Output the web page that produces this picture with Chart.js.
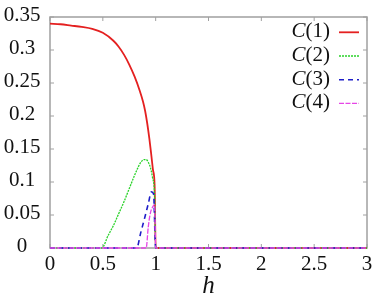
<!DOCTYPE html>
<html>
<head>
<meta charset="utf-8">
<script src="https://cdn.jsdelivr.net/npm/chart.js@4/dist/chart.umd.min.js"></script>
<style>
  html, body { margin: 0; padding: 0; background: #fff; }
  #wrap { position: relative; width: 374px; height: 302px; }
  #wrap canvas { position: absolute; left: 0; top: 0; }
  .lbl {
    position: absolute;
    font: 21px/21px 'Liberation Serif', serif;
    color: #111;
    white-space: nowrap;
    transform: translate(-50%, -50%);
  }
  .key { transform: translate(0, -50%); text-align: right; }
  .title { font: italic 25px/25px 'Liberation Serif', serif; }
</style>
</head>
<body>
<div id="wrap">
  <canvas id="myChart" width="374" height="302"></canvas>
  <div id="xlabels"></div>
  <div id="ylabels"></div>
  <div class="lbl title" id="xtitle"></div>
  <div id="keylabels"></div>
</div>
<script>
const xTicks = [0, 0.5, 1, 1.5, 2, 2.5, 3];
const xTickLabels = ['0', '0.5', '1', '1.5', '2', '2.5', '3'];
const yTicks = [0, 0.05, 0.1, 0.15, 0.2, 0.25, 0.3, 0.35];
const yTickLabels = ['0', '0.05', '0.1', '0.15', '0.2', '0.25', '0.3', '0.35'];
const xTitle = 'h';

const seriesNames = ['C(1)', 'C(2)', 'C(3)', 'C(4)'];

const h1 = [0, 0.1, 0.2, 0.3, 0.4, 0.5, 0.6, 0.65, 0.7, 0.75, 0.8, 0.85, 0.88, 0.9, 0.92, 0.94, 0.96, 0.975, 0.99, 1.0, 3.0];
const c1 = [0.340, 0.339, 0.337, 0.335, 0.332, 0.326, 0.314, 0.305, 0.293, 0.278, 0.260, 0.238, 0.222, 0.208, 0.189, 0.166, 0.139, 0.118, 0.095, 0, 0];

const h2 = [0, 0.49, 0.55, 0.6, 0.65, 0.7, 0.75, 0.8, 0.83, 0.86, 0.89, 0.91, 0.93, 0.95, 0.97, 0.99, 1.0, 3.0];
const c2 = [0, 0, 0.019, 0.034, 0.052, 0.070, 0.090, 0.110, 0.121, 0.130, 0.134, 0.134, 0.130, 0.122, 0.107, 0.078, 0, 0];

const h3 = [0, 0.82, 0.86, 0.9, 0.93, 0.96, 0.98, 1.0, 3.0];
const c3 = [0, 0, 0.024, 0.048, 0.067, 0.085, 0.082, 0, 0];

const h4 = [0, 0.91, 0.93, 0.95, 0.975, 0.99, 1.0, 3.0];
const c4 = [0, 0, 0.032, 0.053, 0.063, 0.066, 0, 0];

function pts(hs, cs) {
    return hs.map(function (h, i) { return { x: h, y: cs[i] }; });
}

// key rows (line sample y positions)
function keyY(i) { return 32.3 + i * 23.7; }

// frame + inward ticks on all four sides
const framePlugin = {
    id: 'frame',
    beforeDatasetsDraw(chart) {
        const ctx = chart.ctx, a = chart.chartArea;
        const xs = chart.scales.x, ys = chart.scales.y;
        ctx.save();
        ctx.strokeStyle = '#a0a0a0';
        ctx.lineWidth = 1.5;
        ctx.strokeRect(a.left, a.top, a.right - a.left, a.bottom - a.top);
        ctx.lineWidth = 1;
        ctx.beginPath();
        xs.ticks.forEach(function (t) {
            const px = xs.getPixelForValue(t.value);
            ctx.moveTo(px, a.bottom); ctx.lineTo(px, a.bottom - 4);
            ctx.moveTo(px, a.top); ctx.lineTo(px, a.top + 4);
        });
        ys.ticks.forEach(function (t) {
            const py = ys.getPixelForValue(t.value);
            ctx.moveTo(a.left, py); ctx.lineTo(a.left + 4, py);
            ctx.moveTo(a.right, py); ctx.lineTo(a.right - 4, py);
        });
        ctx.stroke();
        ctx.restore();
    }
};

// key sample lines, drawn with each dataset's own style
const keyPlugin = {
    id: 'keylines',
    afterDraw(chart) {
        const ctx = chart.ctx;
        ctx.save();
        chart.data.datasets.forEach(function (ds, i) {
            const y = keyY(i);
            ctx.strokeStyle = ds.borderColor;
            ctx.lineWidth = ds.borderWidth;
            ctx.setLineDash(ds.borderDash || []);
            ctx.beginPath();
            ctx.moveTo(339, y);
            ctx.lineTo(359, y);
            ctx.stroke();
        });
        ctx.restore();
    }
};

const data = {
    datasets: [
        { label: seriesNames[0], data: pts(h1, c1), borderColor: 'rgb(228,32,32)', borderWidth: 1.8, order: 4 },
        { label: seriesNames[1], data: pts(h2, c2), borderColor: 'rgb(40,210,40)', borderWidth: 1.3, borderDash: [2, 1], order: 3 },
        { label: seriesNames[2], data: pts(h3, c3), borderColor: 'rgb(30,30,200)', borderWidth: 1.6, borderDash: [5, 4], order: 2 },
        { label: seriesNames[3], data: pts(h4, c4), borderColor: 'rgb(230,70,230)', borderWidth: 1.3, borderDash: [5, 1.5], order: 1 }
    ]
};
data.datasets.forEach(function (ds) {
    ds.pointRadius = 0;
    ds.fill = false;
    ds.cubicInterpolationMode = 'monotone';
    ds.clip = 4;
});

const config = {
    type: 'line',
    data: data,
    options: {
        responsive: false,
        animation: false,
        layout: { padding: { top: 17, right: 7, left: 0, bottom: 0 } },
        plugins: {
            legend: { display: false },
            tooltip: { enabled: false }
        },
        scales: {
            x: {
                type: 'linear',
                min: 0,
                max: 3,
                afterBuildTicks: function (s) { s.ticks = xTicks.map(function (v) { return { value: v }; }); },
                afterFit: function (s) { s.height = 54; },
                grid: { display: false, drawTicks: false },
                border: { display: false },
                ticks: { display: false }
            },
            y: {
                type: 'linear',
                min: 0,
                max: 0.35,
                afterBuildTicks: function (s) { s.ticks = yTicks.map(function (v) { return { value: v }; }); },
                afterFit: function (s) { s.width = 50; },
                grid: { display: false, drawTicks: false },
                border: { display: false },
                ticks: { display: false }
            }
        }
    },
    plugins: [framePlugin, keyPlugin]
};

var chart = new Chart(document.getElementById('myChart'), config);

// text as html labels, placed from the chart's scales
function addLabel(parent, cls, x, y) {
    var d = document.createElement('div');
    d.className = 'lbl' + (cls ? ' ' + cls : '');
    d.style.left = x + 'px';
    d.style.top = y + 'px';
    parent.appendChild(d);
    return d;
}
var area = chart.chartArea;
var xBox = document.getElementById('xlabels');
var yBox = document.getElementById('ylabels');
var kBox = document.getElementById('keylabels');
chart.scales.x.ticks.forEach(function (t, i) {
    addLabel(xBox, '', chart.scales.x.getPixelForValue(t.value), area.bottom + 15).textContent = xTickLabels[i];
});
chart.scales.y.ticks.forEach(function (t, i) {
    addLabel(yBox, '', 22, chart.scales.y.getPixelForValue(t.value) - 3).textContent = yTickLabels[i];
});
var tt = document.getElementById('xtitle');
tt.style.left = ((area.left + area.right) / 2) + 'px';
tt.style.top = '283.5px';
tt.textContent = xTitle;
chart.data.datasets.forEach(function (ds, i) {
    var d = addLabel(kBox, 'key', 0, keyY(i) - 2);
    d.style.left = 'auto';
    d.style.right = (374 - 330) + 'px';
    var it = document.createElement('i');
    it.textContent = ds.label.charAt(0);
    d.appendChild(it);
    d.appendChild(document.createTextNode(ds.label.slice(1)));
});
</script>
</body>
</html>
